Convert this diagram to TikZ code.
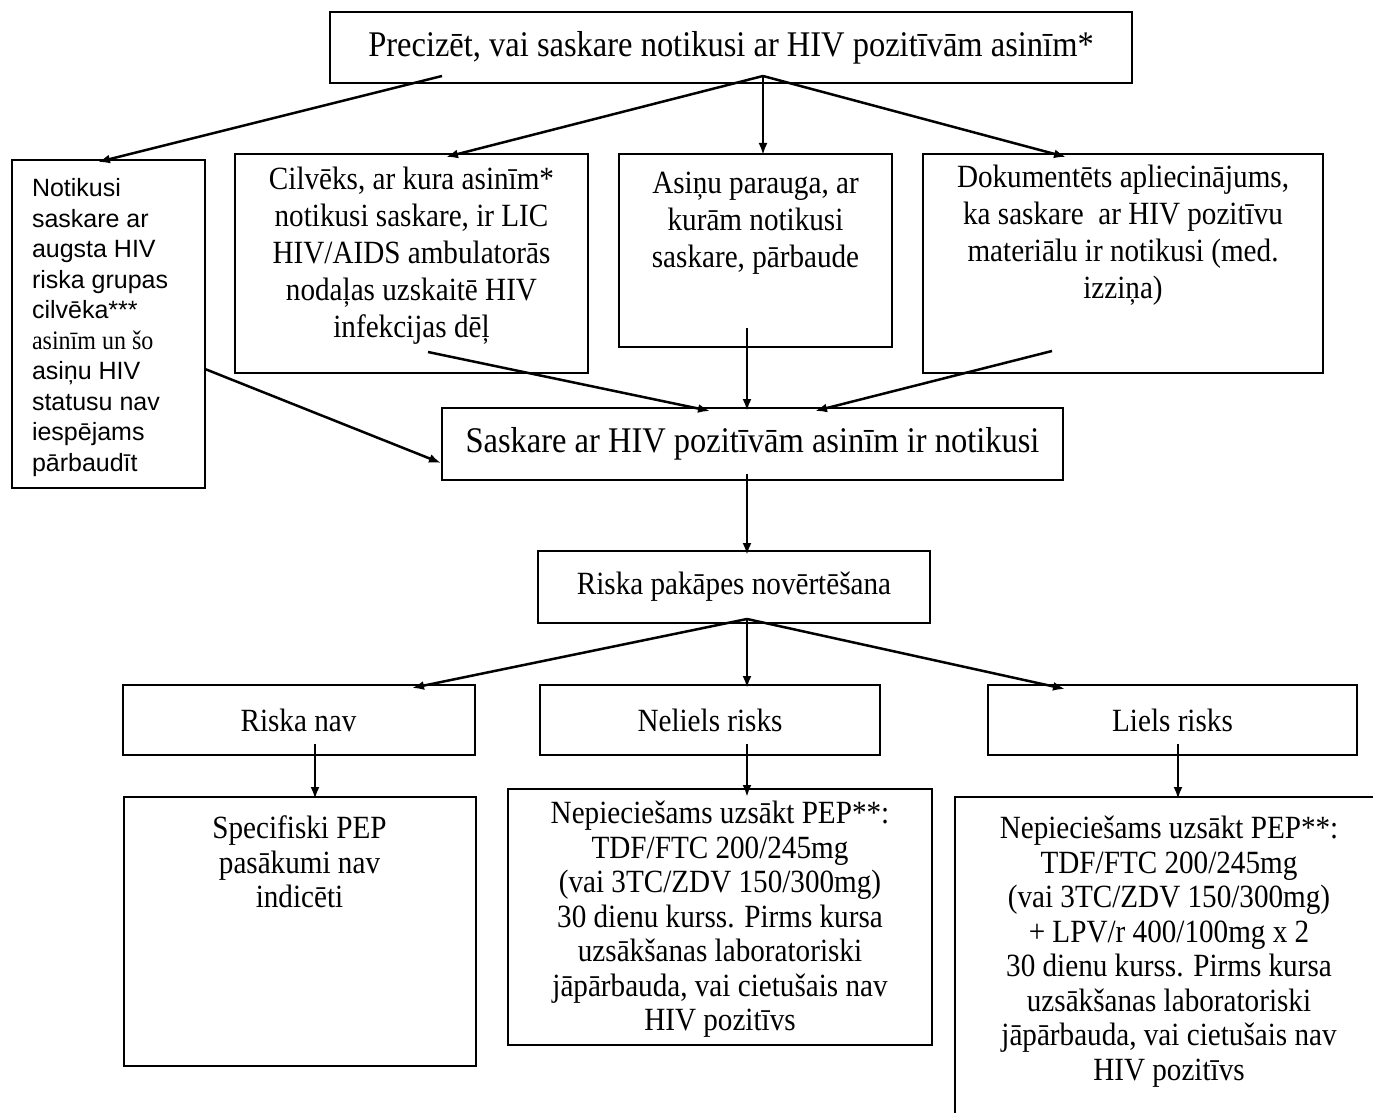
\documentclass[tikz,border=0pt]{standalone}
\usepackage{fontspec}
\setmainfont[FakeStretch=0.9]{Liberation Serif}
\newfontfamily\arialf{Liberation Sans}
\usetikzlibrary{arrows.meta}
\newcommand\tstrut{\rule{0pt}{0.8em}}
\begin{document}
\begin{tikzpicture}[x=1pt,y=-1pt,
  box/.style={draw, line width=2pt, inner sep=0pt, outer sep=0pt},
  arr/.style={line width=2.5pt, -{Latex[length=12pt,width=9pt]}},
  txt/.style={inner sep=0pt, outer sep=0pt, align=center, anchor=north, font=\fontsize{32.4}{37}\selectfont},
  txtlow/.style={txt, font=\fontsize{32.4}{34.5}\selectfont},
  title/.style={font=\fontsize{36.1}{40}\selectfont},
  subtitle/.style={font=\fontsize{32.4}{37}\selectfont}]
\useasboundingbox (0,0) rectangle (1373,1113);
\clip (0,0) rectangle (1373,1113);

% boxes
\node[box, title, minimum width=802pt, minimum height=71pt] (top) at (731,47.5) {Precizēt, vai saskare notikusi ar HIV pozitīvām asinīm*};
\node[box, minimum width=193pt, minimum height=328pt] (left) at (108.5,324) {};
\node[box, minimum width=353pt, minimum height=219pt] (cil) at (411.5,263.5) {};
\node[box, minimum width=273pt, minimum height=193pt] (asi) at (755.5,250.5) {};
\node[box, minimum width=400pt, minimum height=219pt] (dok) at (1123,263.5) {};
\node[box, title, minimum width=621pt, minimum height=72pt] (sas) at (752.5,444) {Saskare ar HIV pozitīvām asinīm ir notikusi};
\node[box, subtitle, minimum width=392pt, minimum height=72pt] (rpn) at (734,587) {Riska pakāpes novērtēšana};
\node[box, subtitle, minimum width=352pt, minimum height=70pt] (rnav) at (298.5,720) {Riska nav};
\node[box, subtitle, minimum width=340pt, minimum height=70pt] (nel) at (710,720) {Neliels risks};
\node[box, subtitle, minimum width=369pt, minimum height=70pt] (lie) at (1172.5,720) {Liels risks};
\node[box, minimum width=352pt, minimum height=269pt] (spec) at (299.5,931.5) {};
\node[box, minimum width=424pt, minimum height=256pt] (nep1) at (720,917) {};
\node[box, minimum width=475pt, minimum height=362pt] (nep2) at (1192.5,978) {};

% texts
\node[inner sep=0pt, outer sep=0pt, anchor=north west, align=left,
      font=\arialf\fontsize{25}{30.5}\selectfont] (leftt) at (32,176.5)
 {\tstrut Notikusi\\ saskare ar\\ augsta HIV\\ riska grupas\\ cilvēka***\\
  {\rmfamily\fontsize{26.7}{30.5}\selectfont asinīm un šo}\\ asiņu HIV\\ statusu nav\\ iespējams\\ pārbaudīt};
\node[txt] (cilt) at (411.5,164) {\tstrut Cilvēks, ar kura asinīm*\\ notikusi saskare, ir LIC\\ HIV/AIDS ambulatorās\\ nodaļas uzskaitē HIV\\ infekcijas dēļ};
\node[txt] (asit) at (755.5,168) {\tstrut Asiņu parauga, ar\\ kurām notikusi\\ saskare, pārbaude};
\node[txt] (dokt) at (1123,162) {\tstrut Dokumentēts apliecinājums,\\ ka saskare\ \ ar HIV pozitīvu\\ materiālu ir notikusi (med.\\ izziņa)};
\node[txtlow] (spect) at (299.5,813) {\tstrut Specifiski PEP\\ pasākumi nav\\ indicēti};
\node[txtlow] (nep1t) at (720,798) {\tstrut Nepieciešams uzsākt PEP**:\\ TDF/FTC 200/245mg\\ (vai 3TC/ZDV 150/300mg)\\ 30 dienu kurss. Pirms kursa\\ uzsākšanas laboratoriski\\ jāpārbauda, vai cietušais nav\\ HIV pozitīvs};
\node[txtlow] (nep2t) at (1169,813) {\tstrut Nepieciešams uzsākt PEP**:\\ TDF/FTC 200/245mg\\ (vai 3TC/ZDV 150/300mg)\\ + LPV/r 400/100mg x 2\\ 30 dienu kurss. Pirms kursa\\ uzsākšanas laboratoriski\\ jāpārbauda, vai cietušais nav\\ HIV pozitīvs};

% connector points
\coordinate (topL) at (442,76);
\coordinate (topF) at (763,76);
\coordinate (leftIn) at (98,162);
\coordinate (cilIn) at (446,157);
\coordinate (asiIn) at (763,155);
\coordinate (dokIn) at (1066,157);
\coordinate (cilOut) at (428,352);
\coordinate (asiOut) at (747,328);
\coordinate (dokOut) at (1052,351);
\coordinate (leftOut) at (205,369);
\coordinate (sasInL) at (710,411);
\coordinate (sasInM) at (747,411);
\coordinate (sasInR) at (815,411);
\coordinate (sasInS) at (441,463);
\coordinate (sasOut) at (747,474);
\coordinate (rpnIn) at (747,555);
\coordinate (rpnF) at (747,619);
\coordinate (rnavIn) at (412,688);
\coordinate (nelIn) at (747,688);
\coordinate (lieIn) at (1065,689);
\coordinate (rnavOut) at (315,744);
\coordinate (nelOut) at (747,744);
\coordinate (lieOut) at (1178,744);
\coordinate (specIn) at (315,799);
\coordinate (nep1In) at (747,797);
\coordinate (nep2In) at (1178,799);

% connectors
\draw[arr] (topL) -- (leftIn);
\draw[arr] (topF) -- (cilIn);
\draw[arr] (topF) -- (asiIn);
\draw[arr] (topF) -- (dokIn);
\draw[arr] (cilOut) -- (sasInL);
\draw[arr] (asiOut) -- (sasInM);
\draw[arr] (dokOut) -- (sasInR);
\draw[arr] (leftOut) -- (sasInS);
\draw[arr] (sasOut) -- (rpnIn);
\draw[arr] (rpnF) -- (rnavIn);
\draw[arr] (rpnF) -- (nelIn);
\draw[arr] (rpnF) -- (lieIn);
\draw[arr] (rnavOut) -- (specIn);
\draw[arr] (nelOut) -- (nep1In);
\draw[arr] (lieOut) -- (nep2In);
\end{tikzpicture}
\end{document}
